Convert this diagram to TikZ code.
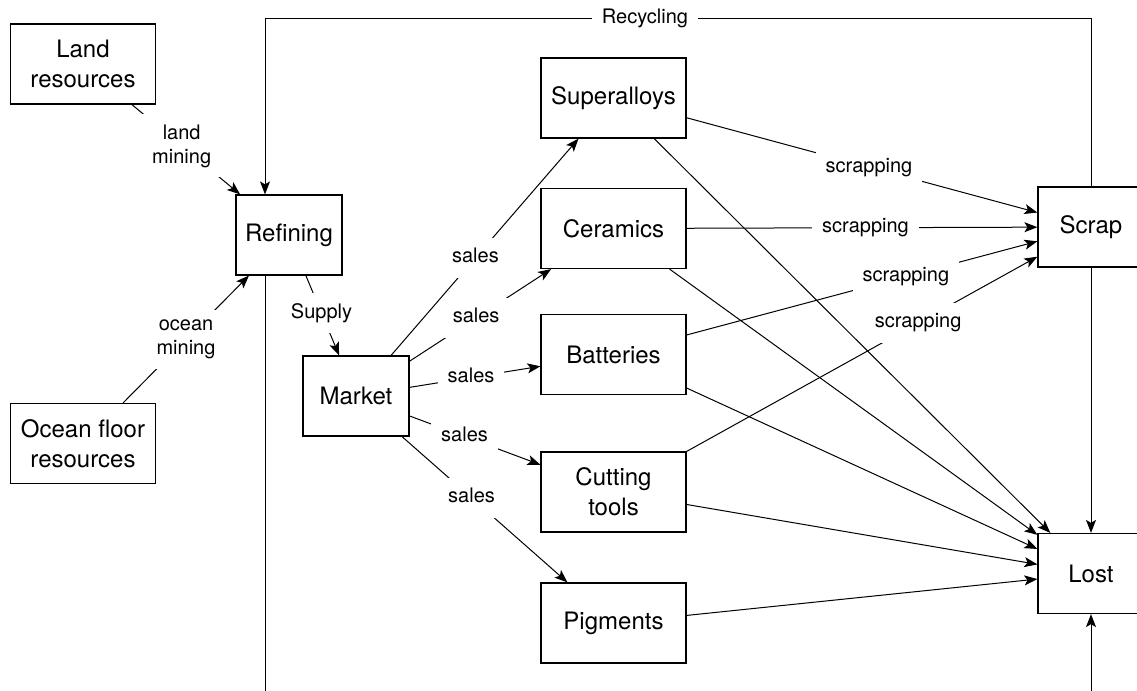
\documentclass[tikz,border=0pt]{standalone}
\usepackage{fontspec}
\setmainfont{TeX Gyre Heros}
\usetikzlibrary{arrows.meta}
\tikzset{
procbox/.style = {draw, line width = 0.6pt, inner sep = 0pt, minimum width = 53pt, minimum height = 40pt, align = center, font = \fontsize{12}{14.8}\selectfont},
prodbox/.style = {procbox, minimum width = 72.5pt},
lbl/.style = {fill = white, inner sep = 5pt, text height = 7.5pt, text depth = 2.5pt, font = \fontsize{10}{12}\selectfont},
lbltwo/.style = {fill = white, inner sep = 5pt, align = center, font = \fontsize{10}{12}\selectfont},
flow/.style = {-{Stealth[length = 6.5pt, width = 5pt, inset = 1.5pt]}, line width = 0.5pt}
}

\begin{document}
\begin{tikzpicture}[x = 0.5pt, y = -0.5pt]
\useasboundingbox (0,0) rectangle (1137,691);
\clip (0,0) rectangle (1137,691);
\node[prodbox] (land) at (83,64) {Land\\resources};
\node[prodbox] (ocean) at (83,443.5) {Ocean floor\\resources};
\node[procbox] (refining) at (289,235) {Refining};
\node[procbox] (market) at (356,396) {Market};
\node[prodbox] (superalloys) at (613.5,98) {Superalloys};
\node[prodbox] (ceramics) at (613.5,228.5) {Ceramics};
\node[prodbox] (batteries) at (613.5,354.5) {Batteries};
\node[prodbox] (cutting) at (613.5,492) {Cutting\\tools};
\node[prodbox] (pigments) at (613.5,623) {Pigments};
\node[procbox] (scrap) at (1091,227) {Scrap};
\node[procbox] (lost) at (1091,573.5) {Lost};
\coordinate (recyc) at (265,18);
\coordinate (lossbase) at (265,720);

\draw[flow] (land) -- node[lbltwo, pos = 0.46] {land\\mining} (refining);
\draw[flow] (ocean) -- node[lbltwo] {ocean\\mining} (refining);
\draw[flow] (refining) -- node[lbl, pos = 0.47] {Supply} (market);
\draw[flow] (market) -- node[lbl, pos = 0.45] {sales} (superalloys);
\draw[flow] (market) -- node[lbl, pos = 0.47] {sales} (ceramics);
\draw[flow] (market) -- node[lbl, pos = 0.47] {sales} (batteries);
\draw[flow] (market) -- node[lbl, pos = 0.42] {sales} (cutting);
\draw[flow] (market) -- node[lbl, pos = 0.42] {sales} (pigments);
\foreach \src in {superalloys, ceramics, batteries, cutting, pigments, scrap}
\draw[flow] (\src) -- (lost);
\draw[flow] (superalloys) -- node[lbl, pos = 0.52] {scrapping} (scrap);
\draw[flow] (ceramics) -- node[lbl, pos = 0.51] {scrapping} (scrap);
\draw[flow] (batteries) -- node[lbl, pos = 0.625] {scrapping} (scrap);
\draw[flow] (cutting) -- node[lbl, pos = 0.66] {scrapping} (scrap);
\draw[flow] (scrap.north) |- node[lbl, pos = 0.77] {Recycling} (recyc) -- (refining.north -| recyc);
\draw[flow] (refining.south -| recyc) -- (lossbase) -| (lost.south);
\end{tikzpicture}
\end{document}
